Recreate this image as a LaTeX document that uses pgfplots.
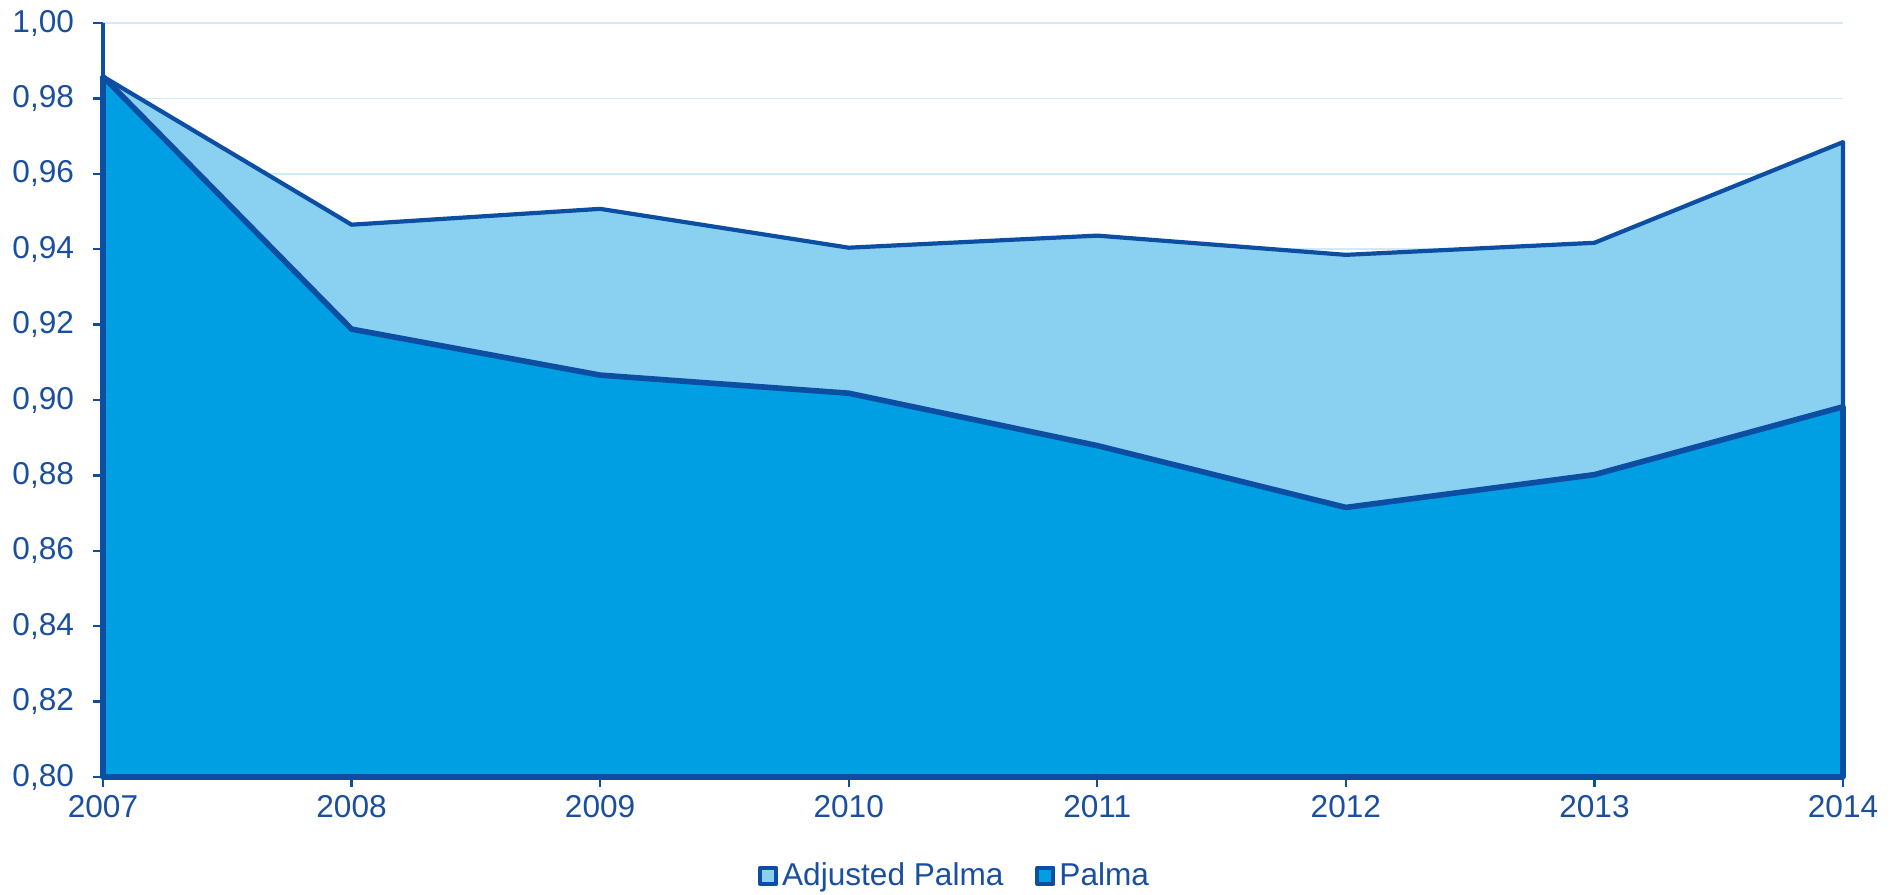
\documentclass[border=0pt]{standalone}
\usepackage{pgfplots}
\pgfplotsset{compat=1.18}
\usepackage{fontspec}
\setmainfont{Liberation Sans}
\definecolor{lineblue}{HTML}{0B4EA2}
\definecolor{textblue}{HTML}{1A4FA0}
\definecolor{palma}{HTML}{009EE2}
\definecolor{adjpalma}{HTML}{8AD0F0}
\definecolor{gridblue}{HTML}{CDEBF8}
\begin{document}
\begin{tikzpicture}
\begin{axis}[
  scale only axis,
  width=870pt, height=377pt,
  xmin=2007, xmax=2014,
  ymin=0.8, ymax=1.0,
  xtick={2007,2008,2009,2010,2011,2012,2013,2014},
  ytick distance=0.02,
  axis lines=left,
  axis line style={-, lineblue, line width=1.6pt},
  tick align=outside,
  major tick length=5pt,
  tick style={lineblue, line width=1.2pt},
  ymajorgrids,
  grid style={gridblue, line width=0.8pt},
  /pgf/number format/assume math mode=true,
  x tick label style={/pgf/number format/1000 sep={}, yshift=-0.5pt},
  y tick label style={/pgf/number format/fixed, /pgf/number format/fixed zerofill, /pgf/number format/precision=2, /pgf/number format/use comma, xshift=-6pt},
  tick label style={font=\fontsize{15.8}{18}\selectfont, text=textblue},
  clip=false,
  legend columns=2,
  legend style={draw=none, fill=none, at={(0.49,-0.131)}, anchor=center,
    font=\fontsize{15.8}{18}\selectfont, text=textblue,
    /tikz/every even column/.append style={column sep=14pt}},
  legend image code/.code={\draw[#1, line width=2pt] (0pt,-4pt) rectangle (8pt,4pt);},
]
\coordinate (sw) at (rel axis cs:0,0);
\coordinate (ne) at (rel axis cs:1,1);
\addplot[fill=adjpalma, draw=lineblue, line width=2.1pt, line join=round] coordinates {
 (2007,0.9858) (2008,0.9465) (2009,0.9507) (2010,0.9404) (2011,0.9436) (2012,0.9385) (2013,0.9417) (2014,0.9684)
} \closedcycle;
\addlegendentry{Adjusted Palma}
\addplot[fill=palma, draw=lineblue, line width=2.8pt, line join=round] coordinates {
 (2007,0.9858) (2008,0.9188) (2009,0.9066) (2010,0.9018) (2011,0.8879) (2012,0.8715) (2013,0.8802) (2014,0.8982)
} \closedcycle;
\addlegendentry{Palma}
\end{axis}
\pgfresetboundingbox
\path[use as bounding box] ([xshift=-51.5pt,yshift=-58.5pt]sw) rectangle ([xshift=29pt,yshift=11.5pt]ne);
\end{tikzpicture}
\end{document}
